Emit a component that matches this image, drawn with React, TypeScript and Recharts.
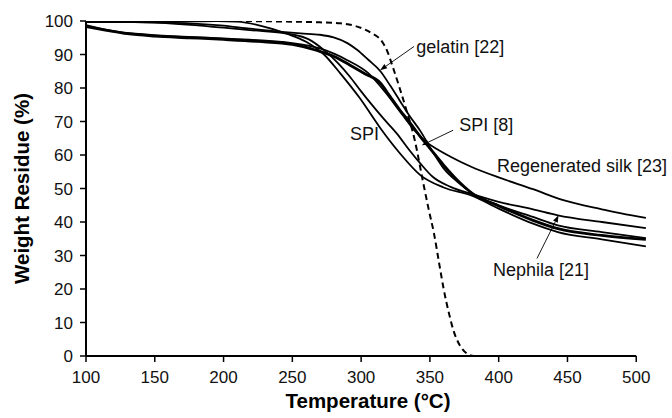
import React from 'react';
import { LineChart, Line, XAxis, YAxis, ReferenceLine, ReferenceDot, Label } from 'recharts';

// ---- data (temperature °C, weight residue %) ----
const dashedSeries = [
  { t: 100, w: 100 }, { t: 150, w: 100 }, { t: 200, w: 100 }, { t: 250, w: 99.8 },
  { t: 270, w: 99.6 }, { t: 285, w: 99.3 }, { t: 295, w: 98.6 }, { t: 302, w: 97.6 },
  { t: 308, w: 96.3 }, { t: 314, w: 94.5 }, { t: 319, w: 91 }, { t: 323, w: 86.3 },
  { t: 328, w: 80 }, { t: 333, w: 73.3 }, { t: 339, w: 64.4 }, { t: 345, w: 52 },
  { t: 349, w: 44 }, { t: 353, w: 36.5 }, { t: 357, w: 27 }, { t: 360, w: 20 },
  { t: 364, w: 12.5 }, { t: 367, w: 7.8 }, { t: 372, w: 3 }, { t: 377, w: 0.7 },
  { t: 382, w: 0 }, { t: 425, w: 0 },
];

const spiSeries = [
  { t: 100, w: 99.7 }, { t: 150, w: 99.7 }, { t: 175, w: 99.9 }, { t: 195, w: 100 },
  { t: 210, w: 99.8 }, { t: 225, w: 98.8 }, { t: 246, w: 96.2 }, { t: 260, w: 93.8 },
  { t: 273, w: 90 }, { t: 285, w: 84.3 }, { t: 299, w: 77 }, { t: 314, w: 68 },
  { t: 328, w: 60.6 }, { t: 343, w: 54 }, { t: 360, w: 50.3 }, { t: 381, w: 47.8 },
  { t: 400, w: 44 }, { t: 425, w: 39.5 }, { t: 443, w: 37 }, { t: 475, w: 34.8 },
  { t: 507, w: 32.7 },
];

const nephilaSeries = [
  { t: 100, w: 99.9 }, { t: 150, w: 99.5 }, { t: 200, w: 98 }, { t: 219, w: 97.3 },
  { t: 250, w: 96 }, { t: 262, w: 94.5 }, { t: 273, w: 91.3 }, { t: 283, w: 87.5 },
  { t: 292, w: 83.3 }, { t: 300, w: 79 }, { t: 307, w: 75.4 }, { t: 316, w: 71 },
  { t: 326, w: 66.4 }, { t: 335, w: 61.5 }, { t: 343, w: 57.5 }, { t: 352, w: 53.5 },
  { t: 365, w: 50.5 }, { t: 381, w: 48.3 }, { t: 400, w: 46 }, { t: 425, w: 43.8 },
  { t: 443, w: 42 }, { t: 475, w: 40 }, { t: 507, w: 38.2 },
];

const gelatinSeries = [
  { t: 100, w: 99.8 }, { t: 150, w: 99.6 }, { t: 200, w: 98.6 }, { t: 219, w: 97.7 },
  { t: 256, w: 96.3 }, { t: 270, w: 95.9 }, { t: 280, w: 95.1 }, { t: 290, w: 93.4 },
  { t: 297, w: 91.4 }, { t: 305, w: 88.5 }, { t: 314, w: 85 }, { t: 321, w: 80.8 },
  { t: 328, w: 76.3 }, { t: 335, w: 71.8 }, { t: 343, w: 67.2 }, { t: 352, w: 61 },
  { t: 360, w: 56 }, { t: 370, w: 52 }, { t: 381, w: 48.5 }, { t: 400, w: 45 },
  { t: 425, w: 41.5 }, { t: 443, w: 39 }, { t: 475, w: 37 }, { t: 507, w: 35.2 },
];

const spi8Series = [
  { t: 100, w: 98.3 }, { t: 115, w: 97.2 }, { t: 130, w: 96.2 }, { t: 150, w: 95.5 },
  { t: 175, w: 95 }, { t: 200, w: 94.5 }, { t: 225, w: 93.9 }, { t: 250, w: 93 },
  { t: 268, w: 91.2 }, { t: 280, w: 89.5 }, { t: 292, w: 86.8 }, { t: 303, w: 84.2 },
  { t: 314, w: 81.5 }, { t: 321, w: 77.5 }, { t: 328, w: 73.5 }, { t: 336, w: 69.4 },
  { t: 343, w: 65.5 }, { t: 350, w: 62 }, { t: 360, w: 57 }, { t: 370, w: 52.5 },
  { t: 381, w: 48.5 }, { t: 400, w: 44.8 }, { t: 425, w: 40.5 }, { t: 443, w: 38 },
  { t: 475, w: 36 }, { t: 507, w: 34.8 },
];

const silkSeries = [
  { t: 100, w: 98.8 }, { t: 120, w: 97 }, { t: 150, w: 95.8 }, { t: 200, w: 94.8 },
  { t: 250, w: 93.4 }, { t: 270, w: 91.8 }, { t: 290, w: 88.3 }, { t: 305, w: 84.5 },
  { t: 318, w: 78.5 }, { t: 330, w: 72 }, { t: 340, w: 66.8 }, { t: 347, w: 64 },
  { t: 355, w: 61.8 }, { t: 365, w: 59.5 }, { t: 380, w: 56.5 }, { t: 400, w: 53.3 },
  { t: 425, w: 49.8 }, { t: 447, w: 46.5 }, { t: 475, w: 43.8 }, { t: 507, w: 41.2 },
];

const xTicks = [100, 150, 200, 250, 300, 350, 400, 450, 500];
const yTicks = [0, 10, 20, 30, 40, 50, 60, 70, 80, 90, 100];

// annotation texts (left/baseline anchor in data units)
const annotations = [
  { text: 'gelatin [22]', t: 340, w: 90.3 },
  { text: 'SPI [8]', t: 371.3, w: 67.1 },
  { text: 'SPI', t: 292, w: 64.6 },
  { text: 'Regenerated silk [23]', t: 398.7, w: 54.9 },
  { text: 'Nephila [21]', t: 395.8, w: 23.8 },
];

// arrows: from (t1,w1) to tip (t2,w2)
const arrows = [
  { t1: 338.5, w1: 92.4, t2: 313.8, w2: 85.3 },
  { t1: 366.9, w1: 67.4, t2: 344.1, w2: 62.9 },
  { t1: 427.8, w1: 29.1, t2: 443.5, w2: 42.0 },
];

const FONT = '"Liberation Sans", Arial, Helvetica, sans-serif';

const ArrowShape = (props: any) => {
  const { x1, y1, x2, y2 } = props;
  if ([x1, y1, x2, y2].some((v) => typeof v !== 'number')) return null;
  const ang = Math.atan2(y2 - y1, x2 - x1);
  const len = 7;
  const half = 2.6;
  const bx = x2 - len * Math.cos(ang);
  const by = y2 - len * Math.sin(ang);
  const px = -Math.sin(ang) * half;
  const py = Math.cos(ang) * half;
  return (
    <g>
      <line x1={x1} y1={y1} x2={bx} y2={by} stroke="#000" strokeWidth={0.9} />
      <polygon points={`${x2},${y2} ${bx + px},${by + py} ${bx - px},${by - py}`} fill="#000" />
    </g>
  );
};

const makeTextShape = (text: string) => (props: any) => {
  const { cx, cy } = props;
  if (typeof cx !== 'number' || typeof cy !== 'number') return null;
  return (
    <text x={cx} y={cy} fontSize={18} fontFamily={FONT} fill="#111">
      {text}
    </text>
  );
};

const XTitle = (props: any) => {
  const vb = props.viewBox || { x: 86, y: 356, width: 564, height: 62 };
  return (
    <text
      x={vb.x + 282}
      y={vb.y + vb.height - 10}
      textAnchor="middle"
      fontSize={20.5}
      fontWeight="bold"
      fontFamily={FONT}
      fill="#000"
    >
      Temperature (°C)
    </text>
  );
};

const YTitle = (props: any) => {
  const vb = props.viewBox || { x: 0, y: 21, width: 86, height: 335 };
  const x = vb.x + 29;
  const y = vb.y + vb.height / 2;
  return (
    <text
      x={x}
      y={y}
      transform={`rotate(-90 ${x} ${y})`}
      textAnchor="middle"
      fontSize={20.5}
      fontWeight="bold"
      fontFamily={FONT}
      fill="#000"
    >
      Weight Residue (%)
    </text>
  );
};

export default function App() {
  const thin = 1.8;
  return (
    <div style={{ position: 'absolute', left: 0, top: 0, background: '#fff' }}>
      <LineChart width={672} height={418} margin={{ top: 21, right: 22, left: 0, bottom: 0 }}>
        <XAxis
          dataKey="t"
          type="number"
          domain={[100, 510]}
          ticks={xTicks}
          interval={0}
          axisLine={false}
          tickLine={{ stroke: '#000', strokeWidth: 1.5 }}
          tickSize={6}
          tickMargin={9}
          height={62}
          tick={{ fontSize: 17, fill: '#111', fontFamily: FONT }}
          allowDataOverflow
        >
          <Label content={<XTitle />} />
        </XAxis>
        <YAxis
          dataKey="w"
          type="number"
          domain={[0, 100]}
          ticks={yTicks}
          interval={0}
          axisLine={{ stroke: '#000', strokeWidth: 2 }}
          tickLine={{ stroke: '#000', strokeWidth: 1.5 }}
          tickSize={6}
          tickMargin={7}
          width={86}
          tick={{ fontSize: 17, fill: '#111', fontFamily: FONT }}
          allowDataOverflow
        >
          <Label content={<YTitle />} />
        </YAxis>
        <ReferenceLine
          segment={[{ x: 100, y: 0 }, { x: 500, y: 0 }]}
          stroke="#000"
          strokeWidth={2}
          ifOverflow="visible"
        />
        <Line data={dashedSeries} dataKey="w" type="monotone" stroke="#000" strokeWidth={2} strokeDasharray="6 4" dot={false} isAnimationActive={false} />
        <Line data={silkSeries} dataKey="w" type="monotone" stroke="#000" strokeWidth={thin} dot={false} isAnimationActive={false} />
        <Line data={spi8Series} dataKey="w" type="monotone" stroke="#000" strokeWidth={2.8} dot={false} isAnimationActive={false} />
        <Line data={gelatinSeries} dataKey="w" type="monotone" stroke="#000" strokeWidth={thin} dot={false} isAnimationActive={false} />
        <Line data={nephilaSeries} dataKey="w" type="monotone" stroke="#000" strokeWidth={thin} dot={false} isAnimationActive={false} />
        <Line data={spiSeries} dataKey="w" type="monotone" stroke="#000" strokeWidth={thin} dot={false} isAnimationActive={false} />
        {arrows.map((a, i) => (
          <ReferenceLine
            key={'a' + i}
            segment={[{ x: a.t1, y: a.w1 }, { x: a.t2, y: a.w2 }]}
            ifOverflow="visible"
            shape={ArrowShape}
          />
        ))}
        {annotations.map((a, i) => (
          <ReferenceDot key={'n' + i} x={a.t} y={a.w} r={0} ifOverflow="visible" shape={makeTextShape(a.text)} />
        ))}
      </LineChart>
    </div>
  );
}
